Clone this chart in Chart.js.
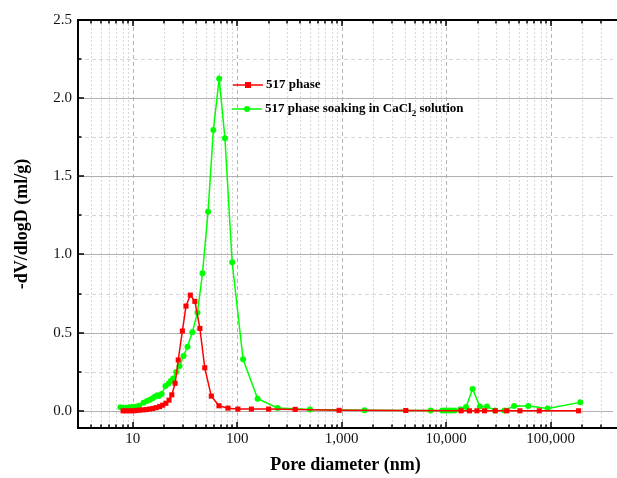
<!DOCTYPE html>
<html><head><meta charset="utf-8">
<script src="https://cdn.jsdelivr.net/npm/chart.js@4/dist/chart.umd.min.js"></script>
<style>html,body{margin:0;padding:0;background:#fff;} #wrap{width:617px;height:478px;position:relative;}</style>
</head><body><div id="wrap"><canvas id="c" width="617" height="478"></canvas></div>
<script>
// ---- data ----
const seriesNames = ['517 phase', '517 phase soaking in CaCl2 solution'];
const xTicks = [10, 100, 1000, 10000, 100000];
const yTicks = [0, 0.5, 1.0, 1.5, 2.0, 2.5];

const poreRed = [8.1, 8.7, 9.4, 10.1, 10.8, 11.6, 12.5, 13.5, 14.5, 15.6, 16.8, 18.1, 19.4, 20.8, 22.3, 23.7, 25.5, 27.3, 29.9, 32.4, 35.6, 39.4, 44, 49, 56.6, 67, 81.7, 101.6, 137, 200, 359, 944, 4110, 13900, 16700, 19700, 23300, 29500, 38000, 50800, 77800, 185000];
const valRed  = [0.0, 0.0, 0.0, 0.0, 0.002, 0.004, 0.006, 0.008, 0.011, 0.015, 0.02, 0.027, 0.036, 0.048, 0.068, 0.102, 0.176, 0.325, 0.51, 0.67, 0.74, 0.70, 0.527, 0.275, 0.094, 0.032, 0.017, 0.011, 0.011, 0.011, 0.009, 0.003, 0.002, 0.0, 0.0, 0.0, 0.0, 0.0, 0.0, 0.0, 0.0, 0.0];

const poreGreen = [7.64, 8.1, 8.7, 9.37, 10.1, 10.7, 11.5, 12.7, 13.7, 14.5, 15.4, 16.3, 17.2, 17.8, 18.9, 20.6, 22.1, 23.2, 24.4, 26.1, 28.1, 30.7, 33.5, 37.2, 41.7, 46.6, 52.7, 59.2, 67.3, 76.4, 89.6, 114, 157, 244, 498, 1655, 7110, 9180, 9780, 10470, 11170, 12030, 13700, 15500, 17900, 21000, 24600, 29500, 36000, 44700, 61100, 93500, 192000];
const valGreen  = [0.022, 0.019, 0.019, 0.022, 0.026, 0.026, 0.032, 0.051, 0.062, 0.069, 0.079, 0.09, 0.099, 0.094, 0.107, 0.158, 0.175, 0.19, 0.207, 0.248, 0.286, 0.35, 0.41, 0.502, 0.627, 0.88, 1.274, 1.797, 2.124, 1.744, 0.95, 0.329, 0.077, 0.018, 0.008, 0.004, 0.002, 0.002, 0.002, 0.002, 0.002, 0.002, 0.01, 0.024, 0.139, 0.028, 0.028, 0.002, 0.002, 0.03, 0.03, 0.015, 0.054];

const RED = '#ff0000';
const GREEN = '#00ff00';
const SERIF = '"Liberation Serif", "Times New Roman", serif';

function fmtNum(v){ return Number(v).toLocaleString('en-US'); }

// ---- plugins ----
const gridPlugin = {
  id: 'customGrid',
  beforeDatasetsDraw(chart){
    const {ctx, chartArea:a, scales:{x, y}} = chart;
    ctx.save();
    ctx.lineWidth = 1;
    // vertical minor (dotted)
    ctx.strokeStyle = '#d6d6d6'; ctx.setLineDash([2,2]);
    for (let e = 0; e <= 5; e++) {
      for (let k = 2; k <= 9; k++) {
        const v = k * Math.pow(10, e);
        if (v <= x.min || v >= x.max) continue;
        const px = Math.round(x.getPixelForValue(v)) + 0.5;
        ctx.beginPath(); ctx.moveTo(px, a.top); ctx.lineTo(px, a.bottom); ctx.stroke();
      }
    }
    // vertical major (dashed)
    ctx.strokeStyle = '#b4b4b4'; ctx.setLineDash([4,3]);
    xTicks.forEach(v => {
      const px = Math.round(x.getPixelForValue(v)) + 0.5;
      ctx.beginPath(); ctx.moveTo(px, a.top); ctx.lineTo(px, a.bottom); ctx.stroke();
    });
    // horizontal minor (dashed light)
    ctx.strokeStyle = '#d6d6d6'; ctx.setLineDash([4,3]);
    for (let i = 0; i < yTicks.length - 1; i++) {
      const v = (yTicks[i] + yTicks[i+1]) / 2;
      const py = Math.round(y.getPixelForValue(v)) + 0.5;
      ctx.beginPath(); ctx.moveTo(a.left, py); ctx.lineTo(a.right, py); ctx.stroke();
    }
    // horizontal major (solid)
    ctx.strokeStyle = '#b0b0b0'; ctx.setLineDash([]);
    yTicks.forEach(v => {
      const py = Math.round(y.getPixelForValue(v)) + 0.5;
      ctx.beginPath(); ctx.moveTo(a.left, py); ctx.lineTo(a.right, py); ctx.stroke();
    });
    ctx.restore();
  }
};

const framePlugin = {
  id: 'frame',
  afterDatasetsDraw(chart){
    const {ctx, chartArea:a, scales:{x, y}} = chart;
    ctx.save();
    ctx.strokeStyle = '#000';
    ctx.setLineDash([]);
    ctx.lineWidth = 1.5;
    // x ticks (inward, bottom & top)
    for (let e = 0; e <= 5; e++) {
      for (let k = 1; k <= 9; k++) {
        const v = k * Math.pow(10, e);
        if (v <= x.min || v >= x.max) continue;
        const len = k === 1 ? 6 : 3.5;
        const px = Math.round(x.getPixelForValue(v));
        ctx.beginPath();
        ctx.moveTo(px, a.bottom); ctx.lineTo(px, a.bottom - len);
        ctx.moveTo(px, a.top); ctx.lineTo(px, a.top + len);
        ctx.stroke();
      }
    }
    // y ticks (inward)
    for (let i = 0; i < yTicks.length; i++) {
      const py = Math.round(y.getPixelForValue(yTicks[i]));
      ctx.beginPath(); ctx.moveTo(a.left, py); ctx.lineTo(a.left + 6, py); ctx.stroke();
      if (i < yTicks.length - 1) {
        const pm = Math.round(y.getPixelForValue((yTicks[i] + yTicks[i+1]) / 2));
        ctx.beginPath(); ctx.moveTo(a.left, pm); ctx.lineTo(a.left + 3.5, pm); ctx.stroke();
      }
    }
    // frame
    ctx.lineWidth = 2;
    ctx.beginPath();
    ctx.moveTo(a.right + 4, a.top); ctx.lineTo(a.left, a.top);
    ctx.lineTo(a.left, a.bottom); ctx.lineTo(a.right + 4, a.bottom);
    ctx.stroke();
    ctx.restore();
  },
  afterDraw(chart){
    // legend
    const {ctx, chartArea:a} = chart;
    ctx.save();
    ctx.textBaseline = 'middle';
    ctx.textAlign = 'left';
    const font = 'bold 13px ' + SERIF;
    const rows = [
      {color: RED, shape: 'rect', y: a.top + 65, x0: 233, segs: [[seriesNames[0], false]]},
      {color: GREEN, shape: 'circle', y: a.top + 89, x0: 232, segs: [['517 phase soaking in CaCl', false], ['2', true], [' solution', false]]}
    ];
    rows.forEach(r => {
      ctx.strokeStyle = r.color; ctx.fillStyle = r.color; ctx.lineWidth = 1.5;
      ctx.beginPath(); ctx.moveTo(r.x0, r.y); ctx.lineTo(r.x0 + 30, r.y); ctx.stroke();
      const cx = r.x0 + 15;
      if (r.shape === 'rect') { ctx.fillRect(cx - 3, r.y - 3, 6, 6); }
      else { ctx.beginPath(); ctx.arc(cx, r.y, 3, 0, Math.PI * 2); ctx.fill(); }
      let tx = r.x0 + 33;
      ctx.fillStyle = '#000';
      r.segs.forEach(([t, sub]) => {
        if (sub) {
          ctx.font = 'bold 9px ' + SERIF;
          ctx.fillText(t, tx, r.y + 5);
        } else {
          ctx.font = font;
          ctx.fillText(t, tx, r.y);
        }
        tx += ctx.measureText(t).width;
      });
    });
    ctx.restore();
  }
};

new Chart(document.getElementById('c'), {
  type: 'line',
  data: {
    datasets: [
      {
        label: seriesNames[0],
        data: poreRed.map((v, i) => ({x: v, y: valRed[i]})),
        borderColor: RED, backgroundColor: RED,
        borderWidth: 1.5, pointStyle: 'rect', pointRadius: 3.6, pointBorderWidth: 0,
        tension: 0, fill: false
      },
      {
        label: seriesNames[1],
        data: poreGreen.map((v, i) => ({x: v, y: valGreen[i]})),
        borderColor: GREEN, backgroundColor: GREEN,
        borderWidth: 1.5, pointStyle: 'circle', pointRadius: 3, pointBorderWidth: 0,
        tension: 0, fill: false
      }
    ]
  },
  options: {
    responsive: false,
    animation: false,
    devicePixelRatio: 1,
    layout: {padding: {top: 20, right: 0, left: 0, bottom: 0}},
    plugins: {legend: {display: false}, tooltip: {enabled: false}},
    scales: {
      x: {
        type: 'logarithmic',
        min: 3, max: 395000,
        grid: {display: false, drawTicks: false},
        border: {display: false},
        afterFit(s){ s.height = 50; },
        afterBuildTicks(s){ s.ticks = xTicks.map(v => ({value: v})); },
        ticks: {
          autoSkip: false, maxRotation: 0, padding: 2, color: '#111',
          font: {family: SERIF, size: 15},
          callback: (v) => fmtNum(v)
        },
        title: {
          display: true, text: 'Pore diameter (nm)', color: '#000',
          font: {family: SERIF, size: 18, weight: 'bold'},
          padding: {top: 0, bottom: 2}
        }
      },
      y: {
        type: 'linear',
        min: -0.11, max: 2.5,
        grid: {display: false, drawTicks: false},
        border: {display: false},
        afterFit(s){ s.width = 78; },
        afterBuildTicks(s){ s.ticks = yTicks.map(v => ({value: v})); },
        ticks: {
          padding: 6, color: '#111',
          font: {family: SERIF, size: 15},
          callback: (v) => Number(v).toFixed(1)
        },
        title: {
          display: true, text: '-dV/dlogD (ml/g)', color: '#000',
          font: {family: SERIF, size: 18, weight: 'bold'},
          padding: {top: 12, bottom: 0}
        }
      }
    }
  },
  plugins: [gridPlugin, framePlugin]
});
</script>
</body></html>
